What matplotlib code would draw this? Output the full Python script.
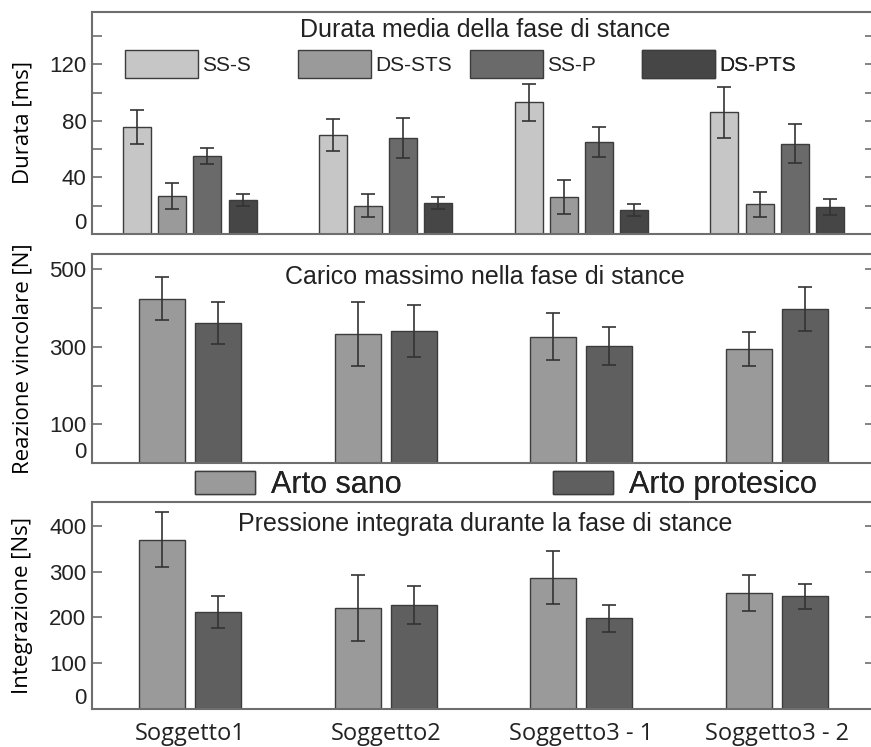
import numpy as np
import matplotlib
matplotlib.use("Agg")
import matplotlib.pyplot as plt
from matplotlib.patches import Patch

# ---------------- data ----------------
subjects = ["Soggetto1", "Soggetto2", "Soggetto3 - 1", "Soggetto3 - 2"]

# Panel 1: Durata media della fase di stance [ms]
dur_series = ["SS-S", "DS-STS", "SS-P", "DS-PTS"]
dur_mean = {
    "SS-S":   [76, 70, 93, 86],
    "DS-STS": [27, 20, 26, 21],
    "SS-P":   [55, 68, 65, 64],
    "DS-PTS": [24, 22, 17, 19],
}
dur_err = {
    "SS-S":   [12, 11, 13, 18],
    "DS-STS": [9, 8, 12, 9],
    "SS-P":   [5.5, 14, 10.5, 14],
    "DS-PTS": [4.5, 4, 4.5, 5.5],
}

# Panel 2: Carico massimo nella fase di stance [N]
limb_series = ["Arto sano", "Arto protesico"]
load_mean = {
    "Arto sano":      [425, 333, 326, 294],
    "Arto protesico": [361, 341, 302, 397],
}
load_err = {
    "Arto sano":      [55, 82, 61, 44],
    "Arto protesico": [54, 67, 49, 57],
}

# Panel 3: Pressione integrata durante la fase di stance [Ns]
integ_mean = {
    "Arto sano":      [370, 221, 287, 253],
    "Arto protesico": [212, 227, 198, 246],
}
integ_err = {
    "Arto sano":      [60, 72, 57, 39],
    "Arto protesico": [35, 42, 30, 28],
}

# ---------------- style ----------------
dur_colors = {"SS-S": "#c6c6c6", "DS-STS": "#9a9a9a", "SS-P": "#6a6a6a", "DS-PTS": "#464646"}
limb_colors = {"Arto sano": "#9a9a9a", "Arto protesico": "#5f5f5f"}
EDGE = "#3c3c3c"
SPINE = "#6e6e6e"
REG = ["Liberation Sans", "DejaVu Sans"]
OPEN = ["Open Sans", "DejaVu Sans"]
TXT = "#222222"

W, H = 871, 747
fig = plt.figure(figsize=(W / 100, H / 100), dpi=100)

def frac_box(x0, y0, x1, y1):
    return [x0 / W, (H - y1) / H, (x1 - x0) / W, (y1 - y0) / H]

ax1 = fig.add_axes(frac_box(92, 12, 875, 234))
ax2 = fig.add_axes(frac_box(92, 254, 875, 463))
ax3 = fig.add_axes(frac_box(92, 502, 875, 709))

x = np.arange(1, len(subjects) + 1)

def style_axes(ax, ylim, ticks, labels):
    ax.set_xlim(0.5, 4.5)
    ax.set_ylim(*ylim)
    ax.set_yticks(ticks)
    ax.set_yticklabels(labels, family=REG, fontsize=16, color=TXT)
    ax.tick_params(axis="y", direction="in", length=7, left=True, right=True,
                   color=SPINE, width=1.2, pad=4)
    ax.tick_params(axis="x", length=0)
    for s in ax.spines.values():
        s.set_color(SPINE)
        s.set_linewidth(1.5)
    for lbl in ax.get_yticklabels():
        if lbl.get_text() == "0":
            lbl.set_verticalalignment("bottom")

err_style = dict(ecolor="#333333", elinewidth=1.2, capthick=1.2)

# ---- panel 1 ----
bw1 = 0.143
offs1 = [-0.27, -0.09, 0.09, 0.27]
for s, off in zip(dur_series, offs1):
    ax1.bar(x + off, dur_mean[s], bw1, color=dur_colors[s], edgecolor=EDGE, linewidth=1.0,
            yerr=dur_err[s], capsize=5, error_kw=err_style)
style_axes(ax1, (0, 157), np.arange(0, 141, 20), ["0", "", "40", "", "80", "", "120", ""])
ax1.set_xticks([])
ax1.set_ylabel("Durata [ms]", family=OPEN, fontsize=16)
ax1.text(0.502, 0.92, "Durata media della fase di stance", transform=ax1.transAxes,
         ha="center", va="center", family=REG, fontsize=18, color=TXT)
leg_x = [125, 298, 470, 642]
for s, lx in zip(dur_series, leg_x):
    lg = ax1.legend(handles=[Patch(facecolor=dur_colors[s], edgecolor=EDGE, linewidth=1.0)],
                    labels=[s], loc="center left",
                    bbox_to_anchor=((lx - 92) / 783, 0.766), frameon=False,
                    prop=dict(family=REG, size=15), handlelength=3.5, handleheight=1.7,
                    handletextpad=0.2, borderpad=0, borderaxespad=0)
    for t in lg.get_texts():
        t.set_color(TXT)
    ax1.add_artist(lg)

# ---- panel 2 ----
bw2 = 0.235
offs2 = [-0.143, 0.143]
for s, off in zip(limb_series, offs2):
    ax2.bar(x + off, load_mean[s], bw2, color=limb_colors[s], edgecolor=EDGE, linewidth=1.0,
            yerr=load_err[s], capsize=5, error_kw=err_style)
style_axes(ax2, (0, 540), np.arange(0, 501, 100), ["0", "100", "", "300", "", "500"])
ax2.set_xticks([])
ax2.set_ylabel("Reazione vincolare [N]", family=OPEN, fontsize=16)
ax2.text(0.502, 0.89, "Carico massimo nella fase di stance", transform=ax2.transAxes,
         ha="center", va="center", family=REG, fontsize=18, color=TXT)

# ---- panel 3 ----
for s, off in zip(limb_series, offs2):
    ax3.bar(x + off, integ_mean[s], bw2, color=limb_colors[s], edgecolor=EDGE, linewidth=1.0,
            yerr=integ_err[s], capsize=5, error_kw=err_style)
style_axes(ax3, (0, 452), np.arange(0, 401, 100), ["0", "100", "200", "300", "400"])
ax3.set_xticks(x)
ax3.set_xticklabels(subjects, family=OPEN, fontsize=17, color=TXT)
ax3.tick_params(axis="x", pad=9)
ax3.set_ylabel("Integrazione [Ns]", family=OPEN, fontsize=16)
ax3.text(0.502, 0.894, "Pressione integrata durante la fase di stance", transform=ax3.transAxes,
         ha="center", va="center", family=REG, fontsize=18, color=TXT)

# ---- shared limb legend between panel 2 and 3 ----
for s, lx in zip(limb_series, [195, 553]):
    lg = fig.legend(handles=[Patch(facecolor=limb_colors[s], edgecolor=EDGE, linewidth=1.0)],
                    labels=[s], loc="center left",
                    bbox_to_anchor=(lx / W, (H - 485) / H), frameon=False,
                    prop=dict(family=REG, size=22), handlelength=1.95, handleheight=0.8,
                    handletextpad=0.55, borderpad=0, borderaxespad=0)
    for t in lg.get_texts():
        t.set_color(TXT)
    fig.add_artist(lg)

for ax in (ax1, ax2, ax3):
    ax.yaxis.set_label_coords(-0.075, 0.5)

fig.savefig("out.png", dpi=100)
